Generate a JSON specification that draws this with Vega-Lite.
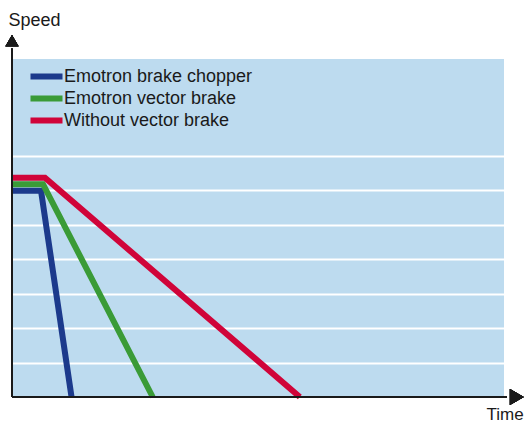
{
  "$schema": "https://vega.github.io/schema/vega-lite/v6.json",
  "width": 492,
  "height": 338,
  "autosize": {"type": "none"},
  "padding": {"left": 12, "top": 59, "right": 23, "bottom": 28},
  "background": "white",
  "config": {
    "view": {"fill": "#bddbef", "stroke": null},
    "font": "Liberation Sans"
  },
  "data": {
    "values": [
      {"series": "Emotron brake chopper", "time": 0, "speed": 5.98},
      {"series": "Emotron brake chopper", "time": 5.9, "speed": 5.98},
      {"series": "Emotron brake chopper", "time": 12.1, "speed": 0},
      {"series": "Emotron vector brake", "time": 0, "speed": 6.17},
      {"series": "Emotron vector brake", "time": 6.3, "speed": 6.17},
      {"series": "Emotron vector brake", "time": 28.6, "speed": 0},
      {"series": "Without vector brake", "time": 0, "speed": 6.36},
      {"series": "Without vector brake", "time": 6.7, "speed": 6.36},
      {"series": "Without vector brake", "time": 58.5, "speed": 0}
    ]
  },
  "layer": [
    {
      "mark": {"type": "line", "strokeWidth": 6, "strokeJoin": "miter", "strokeCap": "butt", "clip": false},
      "encoding": {
        "x": {
          "field": "time", "type": "quantitative",
          "scale": {"domain": [0, 100], "nice": false, "zero": false},
          "axis": {"domain": false, "ticks": false, "labels": false, "grid": false,
                   "title": "Time", "titleFontSize": 17, "titleFontWeight": "normal", "titleColor": "#1a1a1a",
                   "titleAngle": 0, "titleAlign": "left", "titleBaseline": "alphabetic", "titleAnchor": "start",
                   "titleX": 474, "titleY": 22}
        },
        "y": {
          "field": "speed", "type": "quantitative",
          "scale": {"domain": [0, 9.8], "nice": false, "zero": false},
          "axis": {"domain": false, "ticks": false, "labels": false, "grid": true,
                   "values": [1, 2, 3, 4, 5, 6, 7], "gridColor": "white", "gridWidth": 2, "gridOpacity": 1,
                   "title": "Speed", "titleFontSize": 18, "titleFontWeight": "normal", "titleColor": "#1a1a1a",
                   "titleAngle": 0, "titleAlign": "left", "titleBaseline": "alphabetic", "titleAnchor": "start",
                   "titleX": -4, "titleY": -34}
        },
        "color": {
          "field": "series", "type": "nominal",
          "scale": {"domain": ["Emotron brake chopper", "Emotron vector brake", "Without vector brake"],
                    "range": ["#1c3a8c", "#3a9b37", "#d00439"]},
          "legend": {
            "orient": "none", "legendX": 25, "legendY": 8, "title": null,
            "symbolType": "M-2.5,0L2.5,0", "symbolStrokeWidth": 6, "symbolSize": 164,
            "labelFontSize": 18, "labelColor": "#1a1a1a", "labelOffset": 8, "labelLimit": 0,
            "rowPadding": -12, "padding": 0
          }
        }
      }
    },
    {
      "mark": {"type": "rule", "color": "#1a1a1a", "strokeWidth": 2, "clip": false},
      "encoding": {"x": {"datum": 0}, "y": {"datum": 0}, "y2": {"datum": 10.1}}
    },
    {
      "mark": {"type": "rule", "color": "#1a1a1a", "strokeWidth": 2, "clip": false},
      "encoding": {"x": {"datum": 0}, "x2": {"datum": 100.5}, "y": {"datum": 0}}
    },
    {
      "mark": {"type": "point", "shape": "triangle-up", "filled": true, "fill": "#1a1a1a", "fillOpacity": 1, "strokeWidth": 0, "size": 169, "clip": false},
      "encoding": {"x": {"datum": 0}, "y": {"datum": 10.33}}
    },
    {
      "mark": {"type": "point", "shape": "triangle-right", "filled": true, "fill": "#1a1a1a", "fillOpacity": 1, "strokeWidth": 0, "size": 256, "clip": false},
      "encoding": {"x": {"datum": 102.6}, "y": {"datum": 0}}
    }
  ]
}
